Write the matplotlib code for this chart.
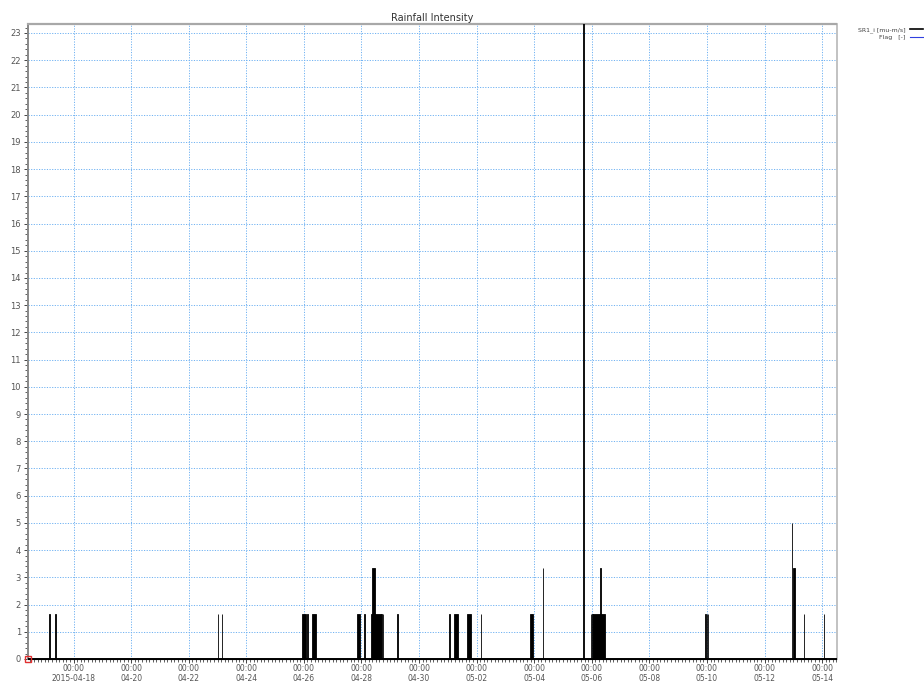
import pandas as pd
import matplotlib
matplotlib.use("Agg")
import matplotlib.pyplot as plt
import matplotlib.dates as mdates
from matplotlib.lines import Line2D
from matplotlib.ticker import MultipleLocator

# rain events: start, end, intensity [mu-m/s]
ev_start = ["2015-04-17 03:40", "2015-04-17 08:10", "2015-04-23 00:00", "2015-04-23 03:20",
            "2015-04-25 22:10", "2015-04-26 03:00", "2015-04-26 06:30", "2015-04-27 20:00",
            "2015-04-28 02:30", "2015-04-28 07:50", "2015-04-28 08:45", "2015-04-28 16:30",
            "2015-04-28 17:40", "2015-04-29 06:00", "2015-05-01 01:20", "2015-05-01 04:50",
            "2015-05-01 15:40", "2015-05-02 03:40", "2015-05-03 20:10", "2015-05-04 07:00",
            "2015-05-05 17:00", "2015-05-05 23:00", "2015-05-06 00:20", "2015-05-06 01:00",
            "2015-05-06 06:40", "2015-05-09 22:30", "2015-05-09 23:50", "2015-05-10 00:50",
            "2015-05-12 22:40", "2015-05-12 23:30", "2015-05-13 08:40", "2015-05-14 01:20"]
ev_end = ["2015-04-17 04:20", "2015-04-17 09:30", "2015-04-23 00:40", "2015-04-23 03:40",
          "2015-04-26 01:30", "2015-04-26 03:20", "2015-04-26 09:50", "2015-04-27 22:30",
          "2015-04-28 03:00", "2015-04-28 16:00", "2015-04-28 11:15", "2015-04-28 16:50",
          "2015-04-28 18:20", "2015-04-29 06:30", "2015-05-01 01:40", "2015-05-01 08:10",
          "2015-05-01 19:00", "2015-05-02 04:00", "2015-05-03 22:50", "2015-05-04 07:20",
          "2015-05-05 17:30", "2015-05-05 23:20", "2015-05-06 00:40", "2015-05-06 10:50",
          "2015-05-06 07:30", "2015-05-09 23:00", "2015-05-10 00:20", "2015-05-10 01:10",
          "2015-05-12 23:10", "2015-05-13 01:10", "2015-05-13 09:00", "2015-05-14 01:40"]
ev_value = [1.667, 1.667, 1.667, 1.667,
            1.667, 1.667, 1.667, 1.667,
            1.667, 1.667, 3.333, 1.667,
            1.667, 1.667, 1.667, 1.667,
            1.667, 1.667, 1.667, 3.333,
            40.0, 1.667, 1.667, 1.667,
            3.333, 1.667, 1.667, 1.667,
            5.0, 3.333, 1.667, 1.667]

t0 = mdates.date2num(pd.to_datetime(ev_start))
t1 = mdates.date2num(pd.to_datetime(ev_end))

fig = plt.figure(figsize=(9.24, 6.82), dpi=100)
ax = fig.add_axes([28/924, 1-659/682, (836.5-28)/924, (659-24)/682])

ax.bar(t0, ev_value, width=t1 - t0, align="edge",
       color="black", edgecolor="black", linewidth=0.6, zorder=3)
ax.axhline(0, color="black", lw=1.4, zorder=4)

x_lo = mdates.date2num(pd.Timestamp("2015-04-16 10:00"))
x_hi = mdates.date2num(pd.Timestamp("2015-05-14 12:00"))
ax.set_xlim(x_lo, x_hi)
ax.set_ylim(0, 23.33)

# origin marker
ax.plot([x_lo], [0], marker="s", ms=5, mfc="none", mec="#e03030", mew=1.0,
        clip_on=False, zorder=8)

ax.xaxis.set_major_locator(mdates.DayLocator(bymonthday=[18, 20, 22, 24, 26, 28, 30, 2, 4, 6, 8, 10, 12, 14]))
ax.xaxis.set_minor_locator(mdates.HourLocator(byhour=range(0, 24, 3)))


def fmt_date(x, pos=None):
    d = mdates.num2date(x)
    if d.month == 4 and d.day == 18:
        return "00:00\n" + d.strftime("%Y-%m-%d")
    return "00:00\n" + d.strftime("%m-%d")


ax.xaxis.set_major_formatter(plt.FuncFormatter(fmt_date))
ax.yaxis.set_major_locator(MultipleLocator(1))
ax.yaxis.set_minor_locator(MultipleLocator(0.2))

ax.tick_params(axis="both", which="major", labelsize=6, labelcolor="#555555",
               color="#444444", length=3, width=0.7, pad=2)
ax.tick_params(axis="x", which="major", pad=0.5)
ax.tick_params(axis="both", which="minor", color="#444444", length=2, width=0.6)
for lbl in ax.get_xticklabels():
    lbl.set_linespacing(1.1)
    lbl.set_fontsize(5.5)

ax.grid(True, which="major", color="#70b2f2", linestyle=(0, (1.2, 1.5)), linewidth=0.7, zorder=1)
ax.set_axisbelow(True)

ax.spines["top"].set_color("#a8a8a8")
ax.spines["top"].set_linewidth(1.6)
ax.spines["right"].set_color("#b8b8b8")
ax.spines["right"].set_linewidth(1.2)
ax.spines["left"].set_color("#888888")
ax.spines["left"].set_linewidth(1.4)
ax.spines["bottom"].set_color("black")

ax.set_title("Rainfall Intensity", fontsize=7, color="#333333", pad=2)

handles = [Line2D([], [], color="black", lw=1.2), Line2D([], [], color="#3040e0", lw=0.8)]
fig.legend(handles, ["SR1_i [mu-m/s]", "Flag   [-]"], loc="upper left",
           bbox_to_anchor=(855/924, 1-24/682), frameon=False, fontsize=4.5,
           markerfirst=False, handlelength=2.2, handletextpad=0.6, labelspacing=0.3,
           borderpad=0, labelcolor="#444444")

fig.savefig("out.png", dpi=100)
